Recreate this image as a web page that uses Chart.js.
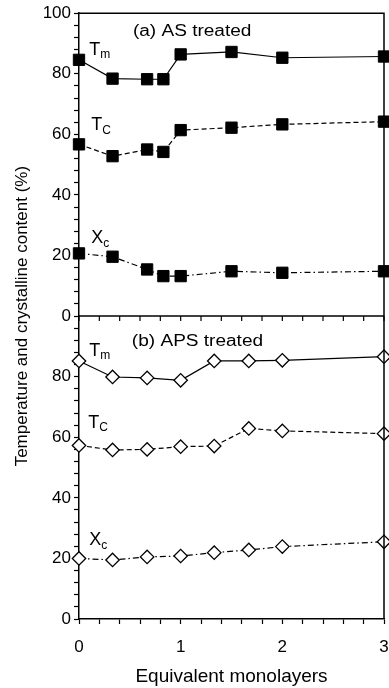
<!DOCTYPE html>
<html>
<head>
<meta charset="utf-8">
<script src="https://cdn.jsdelivr.net/npm/chart.js@4"></script>
<style>
    html, body { margin: 0; padding: 0; background: #fff; overflow: hidden; }
    /* slightly wider than the window: the last x label is cut at the edge, as in the figure */
    #wrap { width: 393px; height: 688px; position: relative; }
</style>
</head>
<body>
<div id="wrap"><canvas id="chart"></canvas></div>
<script>
// --- Data ---
const asX  = [0, 0.33, 0.67, 0.83, 1, 1.5, 2, 3];
const asTm = [84.6, 78.4, 78.2, 78.2, 86.4, 87.2, 85.3, 85.7];
const asTc = [56.7, 52.8, 55.0, 54.2, 61.4, 62.2, 63.3, 64.2];
const asXc = [20.7, 19.6, 15.4, 13.2, 13.2, 14.8, 14.3, 14.8];

const apsX  = [0, 0.33, 0.67, 1, 1.33, 1.67, 2, 3];
const apsTm = [85.2, 79.9, 79.6, 78.8, 85.2, 85.2, 85.4, 86.6];
const apsTc = [57.3, 55.8, 56.0, 56.9, 57.1, 62.9, 62.1, 61.2];
const apsXc = [20.0, 19.5, 20.5, 20.8, 21.9, 22.8, 23.9, 25.5];

const xMajor = [0, 1, 2, 3];
const yMajor = [0, 20, 40, 60, 80, 100];

const panelTitles = [
    { axis: 'yTop', text: '(a) AS treated', x: 0.53, y: 94 },
    { axis: 'yBot', text: '(b) APS treated', x: 0.52, y: 91.5 }
];
const seriesLabels = [
    { axis: 'yTop', main: 'T', sub: 'm', x: 0.1, y: 88 },
    { axis: 'yTop', main: 'T', sub: 'C', x: 0.12, y: 63 },
    { axis: 'yTop', main: 'X', sub: 'c', x: 0.12, y: 25.7 },
    { axis: 'yBot', main: 'T', sub: 'm', x: 0.1, y: 88.5 },
    { axis: 'yBot', main: 'T', sub: 'C', x: 0.09, y: 64.7 },
    { axis: 'yBot', main: 'X', sub: 'c', x: 0.1, y: 26 }
];

const FONT = "'Liberation Sans', Arial, sans-serif";
const pts = (xs, ys) => xs.map((x, i) => ({ x: x, y: ys[i] }));

function series(xs, ys, axis, dash, filled) {
    return {
        data: pts(xs, ys),
        yAxisID: axis,
        clip: false,
        borderColor: '#000',
        borderWidth: 1.2,
        borderDash: dash,
        pointStyle: filled ? 'rect' : 'rectRot',
        pointRadius: filled ? 8 : 6.7,
        pointBorderWidth: filled ? 1 : 1.3,
        pointBackgroundColor: filled ? '#000' : '#fff',
        pointBorderColor: '#000',
        tension: 0
    };
}

const SOLID = [];
const DASH = [5, 3];
const DASHDOT = [6, 3, 1.5, 3];

// frame lines, panel texts and the shared y title
const decorPlugin = {
    id: 'decor',
    afterDraw(chart) {
        const ctx = chart.ctx;
        const xs = chart.scales.x;
        const top = chart.scales.yTop;
        const bot = chart.scales.yBot;
        const area = chart.chartArea;

        ctx.save();
        ctx.strokeStyle = '#000';
        ctx.lineWidth = 1.5;
        ctx.beginPath();
        ctx.moveTo(area.left, top.top);
        ctx.lineTo(area.right, top.top);
        ctx.lineTo(area.right, bot.bottom);
        ctx.stroke();

        // bottom axis of panel (a), with its ticks
        const mid = top.bottom;
        ctx.beginPath();
        ctx.moveTo(area.left, mid);
        ctx.lineTo(area.right, mid);
        ctx.stroke();
        ctx.lineWidth = 1.2;
        xs.ticks.forEach(t => {
            const px = xs.getPixelForValue(t.value);
            ctx.beginPath();
            ctx.moveTo(px, mid);
            ctx.lineTo(px, mid + 5);
            ctx.stroke();
        });

        ctx.fillStyle = '#000';
        ctx.textBaseline = 'middle';
        ctx.textAlign = 'left';
        ctx.font = '16px ' + FONT;
        panelTitles.forEach(p => {
            const sc = chart.scales[p.axis];
            // the figure's lettering is a little stretched sideways
            ctx.save();
            ctx.translate(xs.getPixelForValue(p.x), sc.getPixelForValue(p.y));
            ctx.scale(1.19, 1);
            ctx.fillText(p.text, 0, 0);
            ctx.restore();
        });
        seriesLabels.forEach(l => {
            const sc = chart.scales[l.axis];
            const px = xs.getPixelForValue(l.x);
            const py = sc.getPixelForValue(l.y);
            ctx.font = '18px ' + FONT;
            ctx.fillText(l.main, px, py);
            const w = ctx.measureText(l.main).width;
            ctx.font = '12px ' + FONT;
            ctx.fillText(l.sub, px + w, py + 5);
        });

        ctx.translate(22, (area.top + area.bottom) / 2);
        ctx.rotate(-Math.PI / 2);
        ctx.textAlign = 'center';
        ctx.font = '17px ' + FONT;
        ctx.fillText('Temperature and crystalline content (%)', 0, 0);
        ctx.restore();
    }
};

function yAxis(hideTopLabel) {
    return {
        type: 'linear',
        position: 'left',
        stack: 'panels',
        stackWeight: 1,
        min: 0,
        max: 100,
        afterFit: s => { s.width = 79; },
        border: { display: true, color: '#000', width: 1.5 },
        grid: { drawOnChartArea: false, tickLength: 5, tickColor: '#000', tickWidth: 1.2 },
        ticks: {
            stepSize: 4,
            autoSkip: false,
            color: '#000',
            padding: 3,
            font: { family: FONT, size: 17 },
            callback: v => {
                if (hideTopLabel && v === 100) return null;
                return yMajor.includes(v) ? String(v) : '';
            }
        }
    };
}

new Chart(document.getElementById('chart'), {
    type: 'line',
    data: {
        datasets: [
            series(asX, asTm, 'yTop', SOLID, true),
            series(asX, asTc, 'yTop', DASH, true),
            series(asX, asXc, 'yTop', DASHDOT, true),
            series(apsX, apsTm, 'yBot', SOLID, false),
            series(apsX, apsTc, 'yBot', DASH, false),
            series(apsX, apsXc, 'yBot', DASHDOT, false)
        ]
    },
    options: {
        responsive: true,
        maintainAspectRatio: false,
        animation: false,
        layout: { padding: { top: 13, right: 0, left: 0, bottom: 0 } },
        plugins: { legend: { display: false }, tooltip: { enabled: false } },
        scales: {
            x: {
                type: 'linear',
                min: 0,
                max: 3,
                afterFit: s => { s.height = 69; s.paddingRight = 0; },
                border: { display: true, color: '#000', width: 1.5 },
                grid: { drawOnChartArea: false, tickLength: 5, tickColor: '#000', tickWidth: 1.2 },
                ticks: {
                    stepSize: 0.2,
                    autoSkip: false,
                    maxRotation: 0,
                    color: '#000',
                    padding: 13,
                    font: { family: FONT, size: 17 },
                    callback: v => {
                        const r = Math.round(v);
                        return Math.abs(v - r) < 1e-6 && xMajor.includes(r) ? String(r) : '';
                    }
                },
                title: {
                    display: true,
                    text: 'Equivalent monolayers',
                    color: '#000',
                    font: { family: FONT, size: 19 },
                    padding: { top: 4, bottom: 0 }
                }
            },
            // stacked axes: the one listed last is placed on top
            yBot: yAxis(true),
            yTop: yAxis(false)
        }
    },
    plugins: [decorPlugin]
});
</script>
</body>
</html>
